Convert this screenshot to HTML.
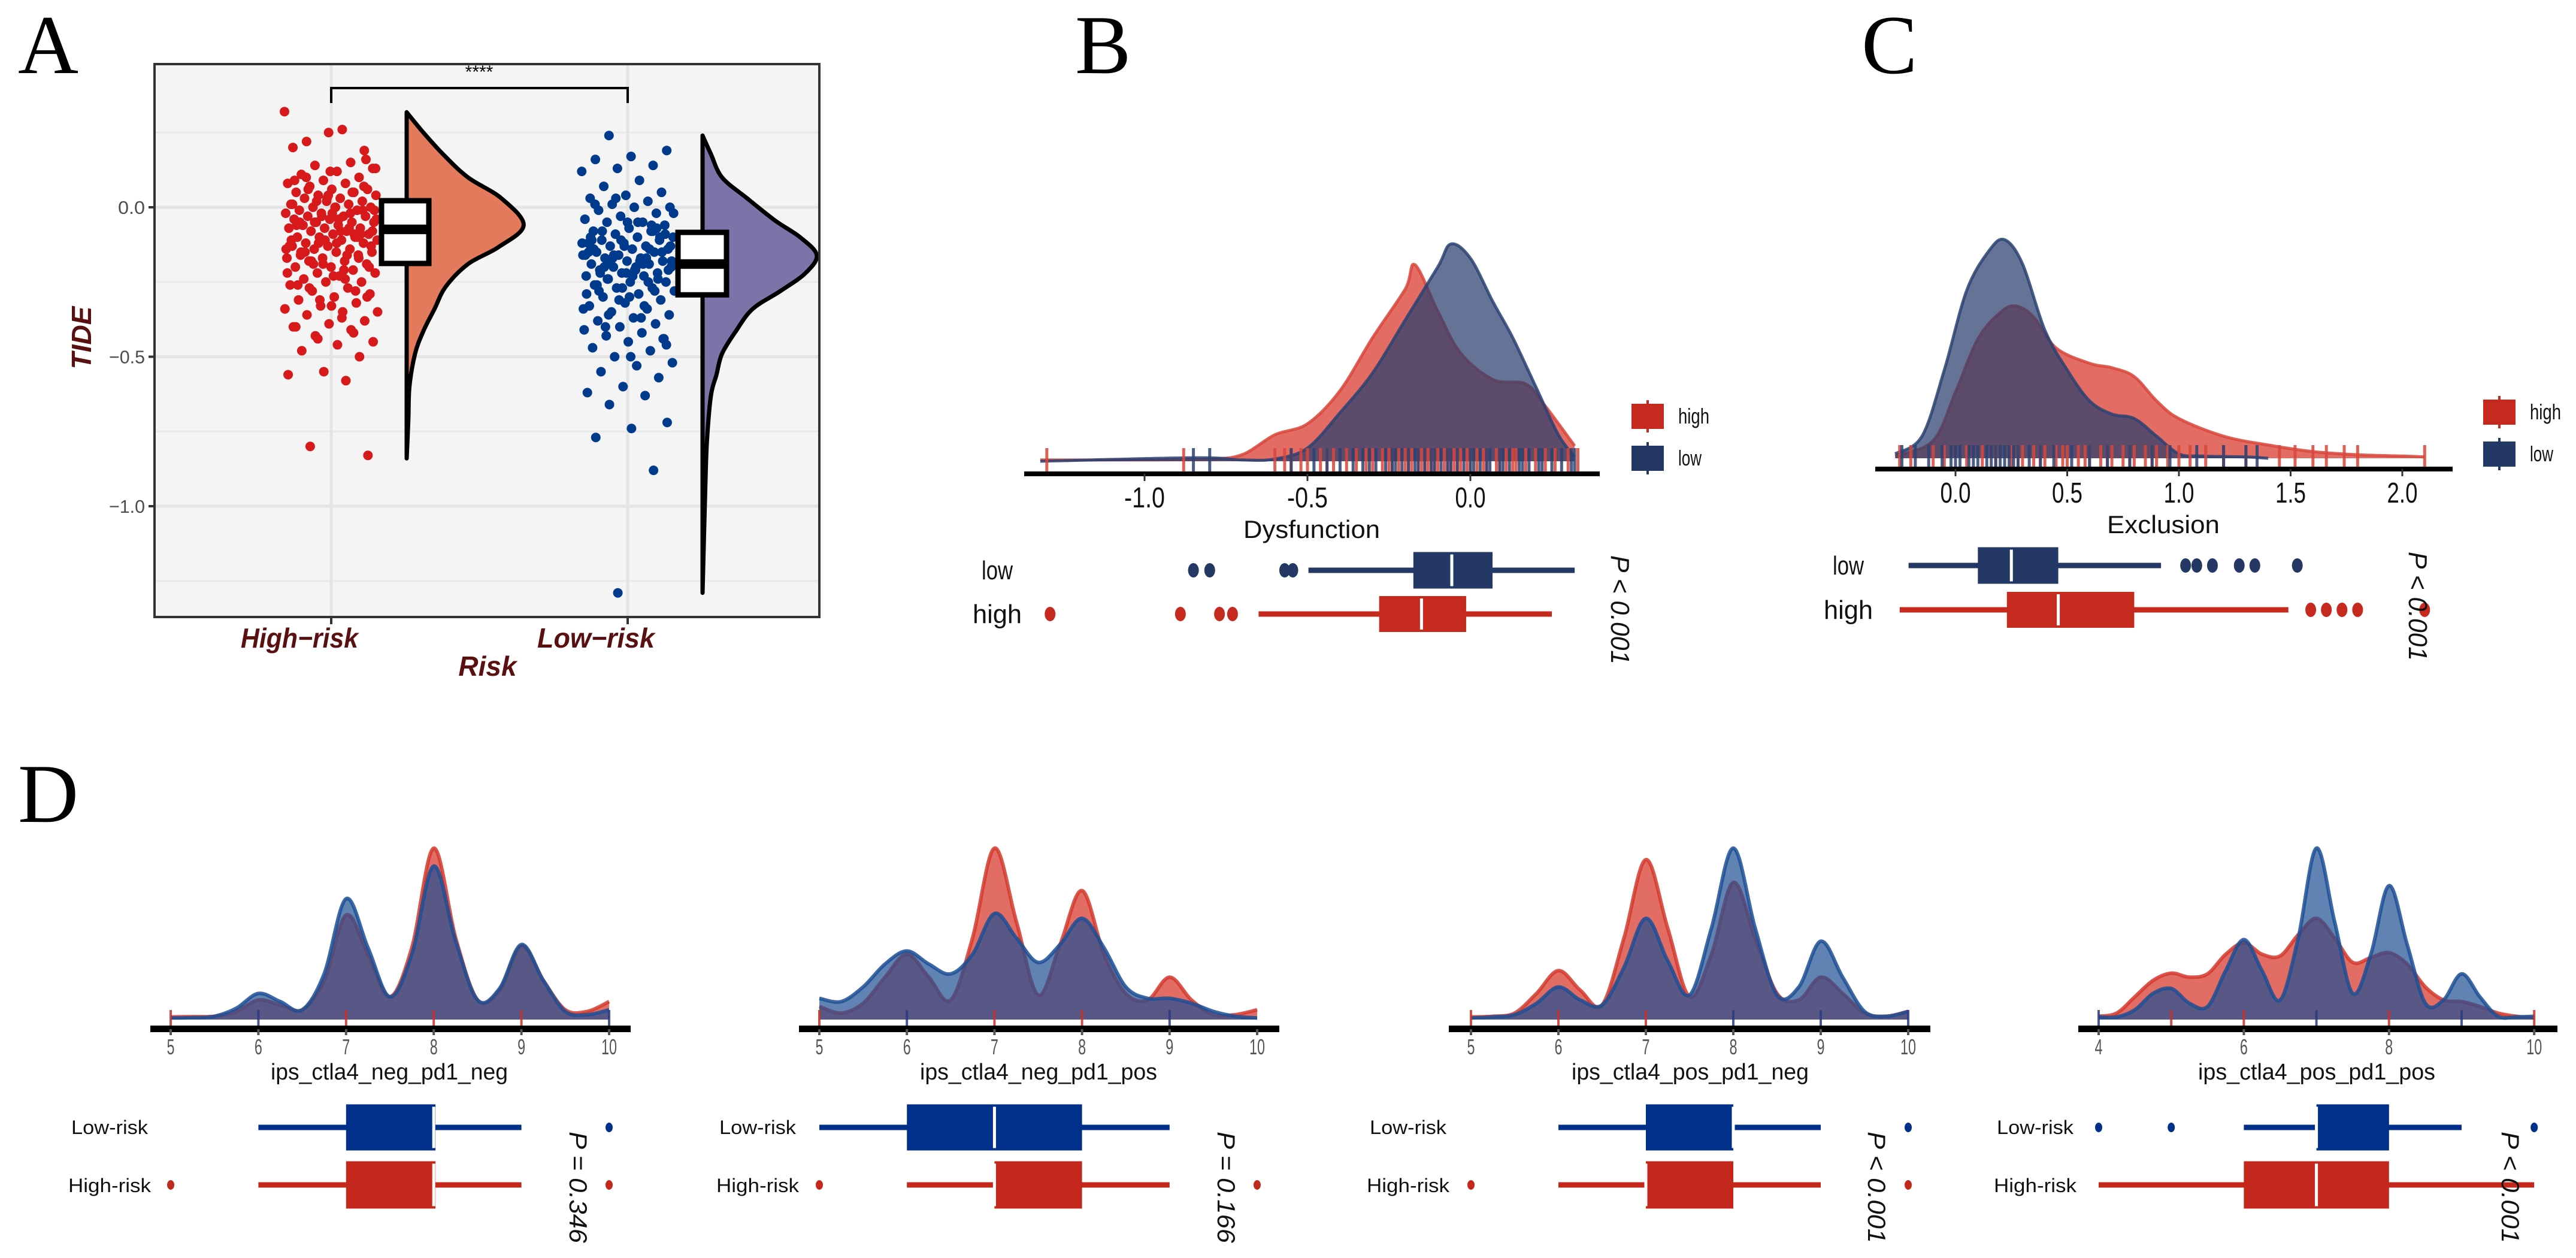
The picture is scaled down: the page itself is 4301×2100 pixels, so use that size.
<!DOCTYPE html>
<html><head><meta charset="utf-8"><style>
html,body{margin:0;padding:0;background:#fff;}
svg{display:block;font-family:"Liberation Sans",sans-serif;}
</style></head><body>
<svg id="fig" width="4301" height="2100" viewBox="0 0 4301 2100" xmlns="http://www.w3.org/2000/svg">
<rect width="4301" height="2100" fill="#fff"/>
<g font-family="Liberation Serif, serif" font-size="140" fill="#000">
<text x="30" y="122">A</text>
<text x="1795" y="122">B</text>
<text x="3108" y="122">C</text>
<text x="30" y="1372">D</text>
</g>
<g id="gA"></g>
<g id="gB"></g>
<g id="gC"></g>
<g id="gD"></g>
</svg>
<script>
// ---------- Panel A data ----------
const aCategories = ["High-risk","Low-risk"];
const aTicks = [0.0,-0.5,-1.0];
const aTickLabels = ["0.0","-0.5","-1.0"];
const aHighPoints = [0.32,0.26,0.22,0.19,0.25,0.2,0.15,0.14,0.13,0.12,0.11,0.1,0.09,0.08,0.08,0.07,0.06,0.06,0.05,0.05,0.04,0.04,0.03,0.03,0.02,0.02,0.01,0.01,0.0,0.0,0.0,-0.01,-0.01,-0.02,-0.02,-0.03,-0.03,-0.03,-0.04,-0.04,-0.05,-0.05,-0.05,-0.06,-0.06,-0.07,-0.07,-0.07,-0.08,-0.08,-0.09,-0.09,-0.1,-0.1,-0.1,-0.11,-0.11,-0.12,-0.12,-0.13,-0.13,-0.14,-0.14,-0.15,-0.15,-0.16,-0.16,-0.17,-0.17,-0.18,-0.18,-0.19,-0.2,-0.2,-0.21,-0.22,-0.22,-0.23,-0.24,-0.25,-0.25,-0.26,-0.27,-0.28,-0.29,-0.3,-0.31,-0.32,-0.33,-0.34,-0.35,-0.36,-0.38,-0.39,-0.4,-0.41,-0.43,-0.45,-0.46,-0.48,-0.5,-0.55,-0.56,-0.58,-0.8,-0.83,-0.02,-0.06,-0.09,-0.12,-0.04,-0.08,-0.15,-0.01,0.03,-0.11,-0.07,-0.19,-0.13,0.0,-0.05,-0.1,-0.03,-0.14,-0.21,0.06,0.16,0.12,0.09,0.05,0.02,-0.01,-0.04,-0.06,-0.09,-0.11,-0.13,-0.16,-0.18,-0.2,-0.23,-0.26,-0.28,-0.31,-0.35,-0.37,0.1,0.07,0.04,0.01,-0.02,-0.05,-0.08,-0.12,-0.15,-0.17,-0.19,-0.22,-0.24,-0.27,-0.3,-0.33,-0.4,-0.42,-0.44,0.13];
const aLowPoints = [0.24,0.19,0.17,0.16,0.14,0.13,0.12,0.09,0.07,0.05,0.04,0.03,0.02,0.01,0.0,0.0,-0.01,-0.02,-0.03,-0.04,-0.05,-0.05,-0.06,-0.07,-0.08,-0.08,-0.09,-0.1,-0.1,-0.11,-0.11,-0.12,-0.12,-0.13,-0.13,-0.14,-0.14,-0.15,-0.15,-0.16,-0.16,-0.17,-0.17,-0.18,-0.18,-0.19,-0.19,-0.2,-0.2,-0.21,-0.21,-0.22,-0.22,-0.23,-0.23,-0.24,-0.25,-0.25,-0.26,-0.27,-0.27,-0.28,-0.29,-0.3,-0.31,-0.32,-0.33,-0.34,-0.35,-0.36,-0.37,-0.38,-0.39,-0.4,-0.41,-0.42,-0.43,-0.44,-0.45,-0.47,-0.48,-0.5,-0.52,-0.53,-0.55,-0.57,-0.6,-0.62,-0.63,-0.66,-0.72,-0.74,-0.77,-0.88,-1.29,-0.12,-0.18,-0.2,-0.15,-0.22,-0.1,-0.25,-0.17,-0.13,-0.21,-0.28,-0.07,-0.11,-0.16,-0.19,-0.24,-0.09,-0.3,-0.14,-0.06,0.03,-0.02,-0.05,-0.08,-0.1,-0.13,-0.15,-0.17,-0.19,-0.21,-0.23,-0.26,-0.28,-0.31,-0.34,-0.37,-0.4,-0.44,-0.05,-0.11,-0.14,-0.16,-0.18,-0.2,-0.22,-0.24,-0.27,-0.29,-0.33,-0.36,-0.46,-0.5,0.01,-0.08];
const aHighViolinY = [0.318,0.25,0.178,0.10,0.03,-0.06,-0.133,-0.19,-0.266,-0.34,-0.414,-0.49,-0.6,-0.71,-0.84];
const aHighViolinW = [0,30,65,110,170,210,165,110,70,50,30,15,5,3,0];
const aLowViolinY = [0.24,0.178,0.10,0.03,-0.044,-0.10,-0.16,-0.22,-0.28,-0.34,-0.414,-0.49,-0.56,-0.63,-0.78,-0.93,-1.29];
const aLowViolinW = [0,15,35,80,130,175,205,185,140,90,60,35,25,15,8,5,0];
const aHighBox = [-0.188,-0.074,0.022];
const aLowBox = [-0.293,-0.19,-0.084];

// ---------- Panel B data ----------
const bTicks = [-1.0,-0.5,0.0];
const bTickLabels = ["-1.0","-0.5","0.0"];
const bHighX = [-1.32,-1.0,-0.8,-0.7,-0.6,-0.5,-0.4,-0.3,-0.2,-0.17,-0.1,-0.03,0.07,0.17,0.23,0.32];
const bHighD = [3,3,5,15,60,85,160,280,390,445,340,245,185,175,125,35];
const bLowX = [-1.32,-0.85,-0.7,-0.6,-0.5,-0.4,-0.3,-0.2,-0.1,-0.06,0.0,0.07,0.13,0.2,0.27,0.32];
const bLowD = [0,8,3,5,30,110,200,320,440,492,460,360,280,170,60,10];
const bRugHigh = [-1.3,-0.88,-0.6,-0.57,-0.55,-0.52,-0.5,-0.46,-0.42,-0.38,-0.35,-0.3,-0.27,-0.25,-0.22,-0.2,-0.18,-0.16,-0.15,-0.13,-0.12,-0.1,-0.08,-0.06,-0.05,-0.03,0.0,0.02,0.05,0.08,0.11,0.14,0.17,0.2,0.23,0.26,0.3,0.33,-0.44,-0.32,-0.24,-0.19,-0.14,-0.11,-0.07,-0.04,-0.01,0.04,0.09,0.13];
const bRugLow = [-0.85,-0.8,-0.55,-0.48,-0.44,-0.4,-0.36,-0.33,-0.29,-0.26,-0.23,-0.21,-0.19,-0.17,-0.14,-0.11,-0.09,-0.07,-0.04,-0.02,0.01,0.03,0.06,0.09,0.12,0.15,0.18,0.21,0.25,0.28,0.31,0.32,-0.31,-0.24,-0.16,-0.12,-0.06,0.0,0.05,0.1,0.16,0.22];
const bLowStats = [-0.497,-0.175,-0.057,0.068,0.32];
const bHighStats = [-0.65,-0.28,-0.15,-0.013,0.25];
const bLowOut = [-0.85,-0.8,-0.57,-0.545];
const bHighOut = [-1.29,-0.89,-0.77,-0.73];

// ---------- Panel C data ----------
const cTicks = [0.0,0.5,1.0,1.5,2.0];
const cTickLabels = ["0.0","0.5","1.0","1.5","2.0"];
const cLowX = [-0.27,-0.15,-0.05,0.05,0.15,0.22,0.3,0.4,0.5,0.6,0.7,0.8,0.9,1.0,1.1,1.3,1.4];
const cLowD = [10,50,200,380,470,495,440,290,200,130,100,90,50,10,5,3,0];
const cHighX = [-0.27,-0.1,0.0,0.1,0.2,0.27,0.35,0.45,0.6,0.7,0.8,0.9,1.0,1.2,1.4,1.6,1.8,2.0,2.1];
const cHighD = [5,40,150,270,330,345,320,250,215,205,185,130,90,50,30,15,8,5,3];
const cRugHigh = [-0.25,-0.2,-0.1,-0.05,0.05,0.12,0.18,0.25,0.3,0.35,0.4,0.45,0.5,0.55,0.6,0.65,0.7,0.75,0.8,0.85,0.9,0.95,1.0,1.05,1.12,1.2,1.3,1.45,1.52,1.6,1.66,1.74,1.8,2.1,0.28,0.38,0.48,0.58,0.68,0.78,0.88];
const cRugLow = [-0.24,-0.18,-0.12,-0.06,-0.02,0.02,0.06,0.1,0.14,0.18,0.2,0.24,0.28,0.33,0.38,0.44,0.52,0.6,0.68,0.78,0.88,0.96,1.08,1.2,1.3,1.35,0.0,0.08,0.16,0.22,0.26];
const cLowStats = [-0.21,0.1,0.25,0.46,0.92];
const cHighStats = [-0.25,0.23,0.46,0.8,1.49];
const cLowOut = [1.03,1.08,1.15,1.27,1.34,1.53];
const cHighOut = [1.59,1.66,1.73,1.8,2.1];

// ---------- Panel D data ----------
const dTitles = ["ips_ctla4_neg_pd1_neg","ips_ctla4_neg_pd1_pos","ips_ctla4_pos_pd1_neg","ips_ctla4_pos_pd1_pos"];
const dPValues = ["P = 0.346","P = 0.166","P < 0.001","P < 0.001"];
const dGrid5 = [5,5.25,5.5,5.75,6,6.25,6.5,6.75,7,7.25,7.5,7.75,8,8.25,8.5,8.75,9,9.25,9.5,9.75,10];
const dGrid4 = [4,4.25,4.5,4.75,5,5.25,5.5,5.75,6,6.25,6.5,6.75,7,7.25,7.5,7.75,8,8.25,8.5,8.75,9,9.25,9.5,9.75,10];
const d1High = [8,9,10,25,60,45,30,120,320,200,70,220,525,250,60,90,225,120,30,25,55];
const d1Low = [5,6,10,35,80,55,30,140,370,220,70,200,470,240,60,95,230,120,25,15,30];
const d2High = [40,20,50,130,200,130,60,250,525,300,75,230,395,200,80,60,130,60,15,15,30];
const d2Low = [65,55,100,170,210,170,140,200,325,250,175,230,310,220,100,65,65,50,25,10,5];
const d3High = [8,10,20,80,150,90,45,250,490,280,70,200,420,250,80,60,130,80,20,10,25];
const d3Low = [5,8,15,50,100,60,45,160,310,180,75,280,525,280,75,100,240,130,25,10,25];
const d4High = [10,20,70,120,142,130,140,200,235,200,195,260,310,250,175,190,205,170,100,60,55,40,20,10,5];
const d4Low = [8,8,30,80,95,50,40,150,245,150,60,250,525,300,80,200,410,230,50,60,140,70,10,8,10];
const d1Ticks = [5,6,7,8,9,10];
const d4Ticks = [4,6,8,10];
const d1LowStats = [6,7,8,8.02,9], d1HighStats = [6,7,8,8.02,9];
const d2LowStats = [5,6,7,8,9], d2HighStats = [6,7,7,8,9];
const d3LowStats = [6,7,8,8,9], d3HighStats = [6,7,7,8,9];
const d4LowStats = [6,7,7,8,9], d4HighStats = [4,6,7,8,10];
const d1LowOut = [10], d1HighOut = [5,10];
const d2LowOut = [], d2HighOut = [5,10];
const d3LowOut = [10], d3HighOut = [5,10];
const d4LowOut = [4,5,10], d4HighOut = [];
const d1RugHigh=[5,7,8,9], d1RugLow=[6,10];
const d2RugHigh=[5,7,8], d2RugLow=[6,9];
const d3RugHigh=[5,6,7], d3RugLow=[8,9,10];
const d4RugHigh=[5,6,8,10], d4RugLow=[4,7,9];

const NS="http://www.w3.org/2000/svg";
function mk(parent,tag,attrs,text){const e=document.createElementNS(NS,tag);for(const k in attrs)e.setAttribute(k,attrs[k]);if(text!==undefined)e.textContent=text;parent.appendChild(e);return e;}
function smooth(pts){let d="M"+pts[0][0].toFixed(1)+","+pts[0][1].toFixed(1);for(let i=0;i<pts.length-1;i++){const p0=pts[Math.max(0,i-1)],p1=pts[i],p2=pts[i+1],p3=pts[Math.min(pts.length-1,i+2)];const c1=[p1[0]+(p2[0]-p0[0])/6,p1[1]+(p2[1]-p0[1])/6],c2=[p2[0]-(p3[0]-p1[0])/6,p2[1]-(p3[1]-p1[1])/6];d+=" C"+c1[0].toFixed(1)+","+c1[1].toFixed(1)+" "+c2[0].toFixed(1)+","+c2[1].toFixed(1)+" "+p2[0].toFixed(1)+","+p2[1].toFixed(1);}return d;}

// ================= Panel A =================
(function(){
const g=document.getElementById('gA');
const yA=v=>346-v*499;
const xCat=[553,1048];
const L=258,R=1368,T=107,B=1030;
let e=mk(g,'rect',{x:L,y:T,width:R-L,height:B-T,fill:'#f4f4f4'});


[0.25,-0.25,-0.75,-1.25].forEach(v=>{const l=mk(g,'line',{x1:L,x2:R,y1:yA(v),y2:yA(v),stroke:'#e9e9e9','stroke-width':3});});
aTicks.forEach(v=>{const l=mk(g,'line',{x1:L,x2:R,y1:yA(v),y2:yA(v),stroke:'#e4e4e4','stroke-width':5});});
xCat.forEach(x=>{const l=mk(g,'line',{x1:x,x2:x,y1:T,y2:B,stroke:'#e4e4e4','stroke-width':5});});
const pts=[[aHighPoints,0,'#d7191c'],[aLowPoints,1,'#003a8c']];
pts.forEach(([arr,ci,col])=>{arr.forEach((v,i)=>{const j=((i*0.61803+ci*0.3)%1)*2-1;const c=mk(g,'circle',{cx:xCat[ci]+j*78,cy:yA(v),r:8,fill:col});});});
function violin(base,ys,ws,fill,nm){const p=ys.map((v,i)=>[base+ws[i]*0.93,yA(v)]);let d=smooth(p)+" L"+base+","+yA(ys[ys.length-1])+" L"+base+","+yA(ys[0])+" Z";const v=mk(g,'path',{d:d,fill:fill,stroke:'#000','stroke-width':7,'stroke-linejoin':'round'});}
violin(679,aHighViolinY,aHighViolinW,'#e47a5c','high-risk-half-violin');
violin(1173,aLowViolinY,aLowViolinW,'#7b74a8','low-risk-half-violin');
function box(x0,x1,st,nm){const b=mk(g,'rect',{x:x0,y:yA(st[2]),width:x1-x0,height:yA(st[0])-yA(st[2]),fill:'#fff',stroke:'#000','stroke-width':9});const m=mk(g,'line',{x1:x0,x2:x1,y1:yA(st[1]),y2:yA(st[1]),stroke:'#000','stroke-width':16});}
box(637,716,aHighBox,'high-risk-box');
box(1132,1213,aLowBox,'low-risk-box');
e=mk(g,'rect',{x:L,y:T,width:R-L,height:B-T,fill:'none',stroke:'#333','stroke-width':4});


e=mk(g,'path',{d:`M${xCat[0]},172 L${xCat[0]},147 L${xCat[1]},147 L${xCat[1]},172`,fill:'none',stroke:'#000','stroke-width':4});


e=mk(g,'text',{x:800,y:130,'text-anchor':'middle','font-size':30,fill:'#000'},'****');


aTicks.forEach((v,i)=>{const t=mk(g,'line',{x1:L-10,x2:L,y1:yA(v),y2:yA(v),stroke:'#333','stroke-width':4});const lb=mk(g,'text',{x:L-16,y:yA(v)+11,'text-anchor':'end','font-size':31,fill:'#4d4d4d',textLength:aTickLabels[i].length*15,lengthAdjust:'spacingAndGlyphs'},aTickLabels[i].replace('-','\u2212'));});
xCat.forEach((x,i)=>{const t=mk(g,'line',{x1:x,x2:x,y1:B,y2:B+12,stroke:'#333','stroke-width':4});const lb=mk(g,'text',{x:x-53,y:1081,'text-anchor':'middle','font-size':46,'font-weight':'bold','font-style':'italic',fill:'#5a1010',textLength:196,lengthAdjust:'spacingAndGlyphs'},aCategories[i].replace('-','\u2212'));});
e=mk(g,'text',{x:814,y:1128,'text-anchor':'middle','font-size':46,'font-weight':'bold','font-style':'italic',fill:'#5a1010'},'Risk');


e=mk(g,'text',{x:0,y:0,transform:'translate(152,564) rotate(-90)','text-anchor':'middle','font-size':46,'font-weight':'bold','font-style':'italic',fill:'#5a1010'},'TIDE');


})();

function densPanel(g,o){
 const {hx,hd,lx,ld,base,hs,xScale,cols,strokeW,op}=o;
 function area(X,D,col,stroke,nm){const p=X.map((v,i)=>[xScale(v),base-D[i]*hs]);const d=smooth(p)+` L${xScale(X[X.length-1])},${base} L${xScale(X[0])},${base} Z`;const a=mk(g,'path',{d:d,fill:col,'fill-opacity':op,stroke:'none'});const l=mk(g,'path',{d:smooth(p),fill:'none',stroke:stroke,'stroke-width':strokeW,'stroke-opacity':0.85});}
 area(hx,hd,cols.high,cols.highLine,'high');
 area(lx,ld,cols.low,cols.lowLine,'low');
}
function rug(g,vals,xScale,y1,y2,col,w,nm){vals.forEach(v=>{const l=mk(g,'line',{x1:xScale(v),x2:xScale(v),y1:y1,y2:y2,stroke:col,'stroke-width':w,'stroke-opacity':0.85});});}
function boxRow(g,st,out,xScale,yc,h,col,ow,orad,nm){
 let w=mk(g,'line',{x1:xScale(st[0]),x2:xScale(st[4]),y1:yc,y2:yc,stroke:col,'stroke-width':ow});
 let b=mk(g,'rect',{x:xScale(st[1]),y:yc-h/2,width:xScale(st[3])-xScale(st[1]),height:h,fill:col});
 let m=mk(g,'line',{x1:xScale(st[2]),x2:xScale(st[2]),y1:yc-h/2+4,y2:yc+h/2-4,stroke:'#fff','stroke-width':5});
 out.forEach(v=>{const c=mk(g,'ellipse',{cx:xScale(v),cy:yc,rx:orad*0.75,ry:orad,fill:col});});
}

function bcPanel(id,cfg){
 const g=document.getElementById(id);
 densPanel(g,{hx:cfg.hx,hd:cfg.hd,lx:cfg.lx,ld:cfg.ld,base:cfg.base,hs:0.737,xScale:cfg.xs,cols:{high:'#d8332a',highLine:'#d8453a',low:'#2a3f6e',lowLine:'#2c4272'},strokeW:5,op:0.72});
 rug(g,cfg.rh,cfg.xs,cfg.base-22,cfg.base+20,'#d8453a',5,'high-rug');
 rug(g,cfg.rl,cfg.xs,cfg.base-22,cfg.base+20,'#2c4272',5,'low-rug');
 let ax=mk(g,'rect',{x:cfg.ax0,y:cfg.axy-4,width:cfg.ax1-cfg.ax0,height:8,fill:'#000'});
 cfg.ticks.forEach((v,i)=>{const t=mk(g,'line',{x1:cfg.xs(v),x2:cfg.xs(v),y1:cfg.axy,y2:cfg.axy+12,stroke:'#333','stroke-width':3});const lb=mk(g,'text',{x:cfg.xs(v),y:cfg.axy+56,'text-anchor':'middle','font-size':48,fill:'#111',textLength:cfg.tickLab[i].length*17,lengthAdjust:'spacingAndGlyphs'},cfg.tickLab[i]);});
 let tt=mk(g,'text',{x:cfg.titleX,y:cfg.titleY,'text-anchor':'middle','font-size':42,fill:'#111',textLength:cfg.titleW,lengthAdjust:'spacingAndGlyphs'},cfg.title);
 [['high','#c62a1f',cfg.legY],['low','#233864',cfg.legY+70]].forEach(([lab,col,y])=>{const r=mk(g,'rect',{x:cfg.legX,y:y,width:54,height:42,fill:col});const l=mk(g,'line',{x1:cfg.legX+27,x2:cfg.legX+27,y1:y-6,y2:y+48,stroke:col,'stroke-width':4});const t=mk(g,'text',{x:cfg.legX+78,y:y+33,'font-size':36,fill:'#111',textLength:lab.length*13,lengthAdjust:'spacingAndGlyphs'},lab);});
 boxRow(g,cfg.lowSt,cfg.lowOut,cfg.xs,cfg.lowY,61,'#233864',9,12,'low');
 boxRow(g,cfg.highSt,cfg.highOut,cfg.xs,cfg.highY,60,'#c62a1f',9,12,'high');
 let a=mk(g,'text',{x:cfg.labX,y:cfg.lowY+15,'text-anchor':'middle','font-size':44,fill:'#111',textLength:52,lengthAdjust:'spacingAndGlyphs'},'low');
 a=mk(g,'text',{x:cfg.labX,y:cfg.highY+15,'text-anchor':'middle','font-size':44,fill:'#111',textLength:82,lengthAdjust:'spacingAndGlyphs'},'high');
 a=mk(g,'text',{x:0,y:0,transform:`translate(${cfg.pX},${cfg.pY}) rotate(90)`,'text-anchor':'middle','font-size':44,'font-style':'italic',fill:'#111',textLength:182,lengthAdjust:'spacingAndGlyphs'},'P < 0.001');
}
bcPanel('gB',{hx:bHighX,hd:bHighD,lx:bLowX,ld:bLowD,rh:bRugHigh,rl:bRugLow,base:770,xs:v=>2455+v*544,ax0:1710,ax1:2671,axy:791,ticks:bTicks,tickLab:bTickLabels,title:'Dysfunction',titleX:2190,titleY:898,titleW:228,legX:2724,legY:674,lowSt:bLowStats,lowOut:bLowOut,highSt:bHighStats,highOut:bHighOut,lowY:952,highY:1025,labX:1665,pX:2690,pY:1018});
bcPanel('gC',{hx:cHighX,hd:cHighD,lx:cLowX,ld:cLowD,rh:cRugHigh,rl:cRugLow,base:765,xs:v=>3265+v*373,ax0:3131,ax1:4095,axy:783,ticks:cTicks,tickLab:cTickLabels,title:'Exclusion',titleX:3612,titleY:890,titleW:188,legX:4146,legY:667,lowSt:cLowStats,lowOut:cLowOut,highSt:cHighStats,highOut:cHighOut,lowY:944,highY:1018,labX:3086,pX:4022,pY:1012});

(function(){
 const gD=document.getElementById('gD');
 const cfgs=[
  {grid:dGrid5,h:d1High,l:d1Low,x0:285,u:146.4,lo:5,ticks:d1Ticks,ax0:251,ax1:1053,titleX:650,ls:d1LowStats,hs:d1HighStats,lout:d1LowOut,hout:d1HighOut,rh:d1RugHigh,rl:d1RugLow,labX:183,pX:951},
  {grid:dGrid5,h:d2High,l:d2Low,x0:1368,u:146.2,lo:5,ticks:d1Ticks,ax0:1334,ax1:2136,titleX:1734,ls:d2LowStats,hs:d2HighStats,lout:d2LowOut,hout:d2HighOut,rh:d2RugHigh,rl:d2RugLow,labX:1265,pX:2033},
  {grid:dGrid5,h:d3High,l:d3Low,x0:2456,u:146,lo:5,ticks:d1Ticks,ax0:2419,ax1:3223,titleX:2822,ls:d3LowStats,hs:d3HighStats,lout:d3LowOut,hout:d3HighOut,rh:d3RugHigh,rl:d3RugLow,labX:2351,pX:3119},
  {grid:dGrid4,h:d4High,l:d4Low,x0:3504,u:121.2,lo:4,ticks:d4Ticks,ax0:3470,ax1:4270,titleX:3868,ls:d4LowStats,hs:d4HighStats,lout:d4LowOut,hout:d4HighOut,rh:d4RugHigh,rl:d4RugLow,labX:3398,pX:4177}
 ];
 cfgs.forEach((c,k)=>{
  const g=mk(gD,'g',{});
  
  
  const xs=v=>c.x0+(v-c.lo)*c.u;
  densPanel(g,{hx:c.grid,hd:c.h,lx:c.grid,ld:c.l,base:1702,hs:0.545,xScale:xs,cols:{high:'#d42f22',highLine:'#d43a2e',low:'#1e4f94',lowLine:'#1d4f94'},strokeW:6,op:0.7});
  rug(g,c.rh,xs,1686,1713,'#c8302a',4,'high-rug');
  rug(g,c.rl,xs,1686,1713,'#2a3a80',4,'low-rug');
  let ax=mk(g,'rect',{x:c.ax0,y:1712,width:c.ax1-c.ax0,height:11,fill:'#000'});
  c.ticks.forEach(v=>{const t=mk(g,'line',{x1:xs(v),x2:xs(v),y1:1718,y2:1728,stroke:'#555','stroke-width':4});const lb=mk(g,'text',{x:xs(v),y:1760,'text-anchor':'middle','font-size':36,fill:'#555',textLength:String(v).length*13,lengthAdjust:'spacingAndGlyphs'},String(v));});
  let t=mk(g,'text',{x:c.titleX,y:1802,'text-anchor':'middle','font-size':38,fill:'#111',textLength:396,lengthAdjust:'spacingAndGlyphs'},dTitles[k]);
  boxRow(g,c.ls,c.lout,xs,1882,77,'#00308a',9,8,'low-risk');
  boxRow(g,c.hs,c.hout,xs,1978,79,'#c4281c',9,8,'high-risk');
  t=mk(g,'text',{x:c.labX,y:1893,'text-anchor':'middle','font-size':32,fill:'#111',textLength:128,lengthAdjust:'spacingAndGlyphs'},'Low-risk');
  t=mk(g,'text',{x:c.labX,y:1990,'text-anchor':'middle','font-size':32,fill:'#111',textLength:138,lengthAdjust:'spacingAndGlyphs'},'High-risk');
  t=mk(g,'text',{x:0,y:0,transform:`translate(${c.pX},1982) rotate(90)`,'text-anchor':'middle','font-size':42,'font-style':'italic',fill:'#111',textLength:186,lengthAdjust:'spacingAndGlyphs'},dPValues[k]);
 });
})();
</script>
</body></html>
